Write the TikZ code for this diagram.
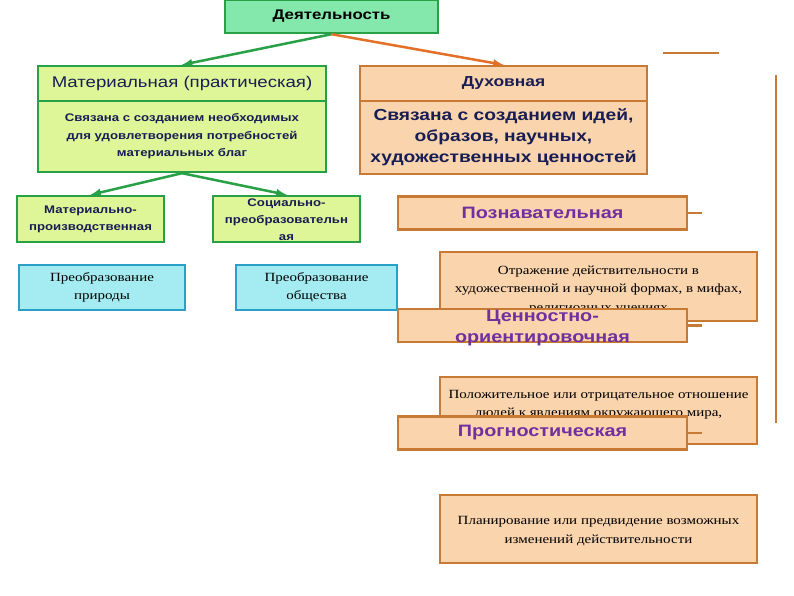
\documentclass[tikz,border=0pt]{standalone}
\usepackage{fontspec}
\setmainfont{Liberation Serif}[FakeStretch=1.2]
\setsansfont{Liberation Sans}[FakeStretch=1.2]
\usepackage{xcolor}
\usetikzlibrary{arrows,positioning}

\definecolor{mint}{RGB}{132,232,172}
\definecolor{leaf}{RGB}{40,160,70}
\definecolor{lime}{RGB}{222,246,152}
\definecolor{navy}{RGB}{24,30,84}
\definecolor{peach}{RGB}{250,212,172}
\definecolor{rust}{RGB}{200,122,52}
\definecolor{flame}{RGB}{226,112,40}
\definecolor{aqua}{RGB}{164,236,242}
\definecolor{teal}{RGB}{40,160,200}
\definecolor{plum}{RGB}{112,48,160}

\begin{document}
\begin{tikzpicture}[x=1pt,y=-1pt]
      \useasboundingbox (0,0) rectangle (794,595);
      \tikzstyle{gbox} = [draw=leaf, line width=2.4pt, fill=lime, text=navy, font=\sffamily, align=center, inner sep=0pt]
      \tikzstyle{obox} = [draw=rust, line width=2.4pt, fill=peach, align=center, inner sep=0pt]
      \tikzstyle{cbox} = [draw=teal, line width=2.4pt, fill=aqua, font=\fontsize{12.5}{18}\selectfont, align=center, inner sep=0pt]
      \tikzstyle{kind} = [obox, text=plum, font=\sffamily\bfseries\fontsize{16.5}{21}\selectfont, minimum width=289, minimum height=33]
      \tikzstyle{note} = [obox, minimum width=317]
      \tikzstyle{ntext} = [font=\fontsize{12.5}{18.5}\selectfont, align=center, inner sep=0pt]
      \tikzstyle{garrow} = [draw=leaf, line width=2.5pt, -latex]
      \tikzstyle{oarrow} = [draw=flame, line width=2.5pt, -latex]
      \tikzstyle{stub} = [draw=rust, line width=2.8pt]

      \node[gbox, fill=mint, text=black, font=\sffamily\bfseries\fontsize{14}{16}\selectfont, minimum width=213, minimum height=33] (act) at (331.5, 16.5) {Деятельность};

      \node[gbox, font=\sffamily\fontsize{15.5}{17}\selectfont, minimum width=288, minimum height=35] (mhead) at (182, 83.5) {Материальная (практическая)};
      \node[gbox, font=\sffamily\bfseries\fontsize{11}{17.5}\selectfont, minimum width=288, minimum height=71] (mbody) at (182, 136.5) {Связана с созданием необходимых\\для удовлетворения потребностей\\материальных благ};

      \node[obox, text=navy, font=\sffamily\bfseries\fontsize{14.5}{16}\selectfont, minimum width=287, minimum height=35] (dhead) at (503.5, 83.5) {Духовная};
      \node[obox, text=navy, font=\sffamily\bfseries\fontsize{16}{21}\selectfont, minimum width=287, minimum height=73] (dbody) at (503.5, 137.5) {Связана с созданием идей,\\образов, научных,\\художественных ценностей};

      \node[gbox, font=\sffamily\bfseries\fontsize{11}{17}\selectfont, minimum width=147, minimum height=46] (mprod) at (90.5, 219) {Материально-\\производственная};
      \node[gbox, minimum width=147, minimum height=46] (soc) at (286.5, 219) {};
      \node[text=navy, font=\sffamily\bfseries\fontsize{11}{17}\selectfont, align=center, inner sep=0pt] (soctext) at (286.5, 220) {Социально-\\преобразовательн\\ая};

      \node[cbox, minimum width=166, minimum height=45] (nature) at (102, 287.5) {Преобразование\\природы};
      \node[cbox, minimum width=161, minimum height=45] (society) at (316.5, 287.5) {Преобразование\\общества};

      \node[kind] (pozn) at (542.5, 213) {Познавательная};
      \node[note, minimum height=69] (refl) at (598.5, 286.5) {};
      \node[ntext] (refltext) at (598.5, 290) {Отражение действительности в\\художественной и научной формах, в мифах,\\религиозных учениях};
      \node[kind] (value) at (542.5, 325.5) {};
      \node[text=plum, font=\sffamily\bfseries\fontsize{16.5}{21}\selectfont, align=center, inner sep=0pt] (valuetext) at (542.5, 328) {Ценностно-\\ориентировочная};
      \node[note, minimum height=67] (attit) at (598.5, 410.5) {};
      \node[ntext] (attittext) at (598.5, 414) {Положительное или отрицательное отношение\\людей к явлениям окружающего мира,\\их оценки и переживания};
      \node[kind] (prog) at (542.5, 433) {Прогностическая};
      \node[note, minimum height=68] (plan) at (598.5, 529) {};
      \node[ntext] (plantext) at (598.5, 531) {Планирование или предвидение возможных\\изменений действительности};

      \coordinate (poznend) at (702, 213);
      \coordinate (valueend) at (702, 325.5);
      \coordinate (progend) at (702, 433);
      \coordinate (barleft) at (663, 53);
      \coordinate (barright) at (719, 53);
      \coordinate (railtop) at (776, 75);
      \coordinate (railbot) at (776, 423);

      % connections
      \draw[garrow] (act.south) -- (mhead.north);
      \draw[oarrow] (act.south) -- (dhead.north);
      \draw[garrow] (mbody.south) -- (mprod.north);
      \draw[garrow] (mbody.south) -- (soc.north);
      \draw[stub] (pozn.east) -- (poznend);
      \draw[stub] (value.east) -- (valueend);
      \draw[stub] (prog.east) -- (progend);
      \draw[stub] (barleft) -- (barright);
      \draw[stub] (railtop) -- (railbot);
\end{tikzpicture}
\end{document}
